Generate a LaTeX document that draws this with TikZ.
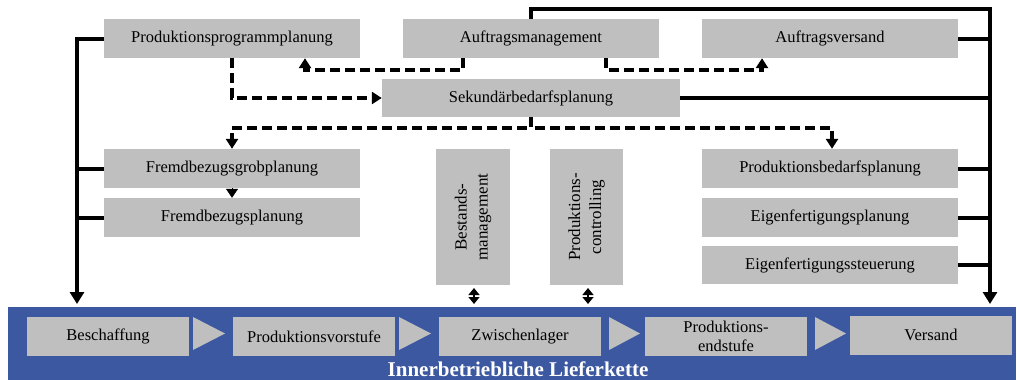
\documentclass[tikz,border=0pt]{standalone}
\usepackage{fontspec}
\setmainfont{Liberation Serif}
\usetikzlibrary{arrows.meta}
\definecolor{boxgray}{HTML}{BFBFBF}
\definecolor{bandblue}{HTML}{3C58A0}
\begin{document}
\begin{tikzpicture}[x=1pt,y=-1pt,
  box/.style={fill=boxgray, inner sep=0pt, font=\fontsize{16.5}{19}\selectfont, align=center},
  wbox/.style={box, minimum width=256pt, minimum height=39pt},
  lbox/.style={box, minimum width=162pt, minimum height=39pt},
  vbox/.style={box, rotate=90, minimum width=136pt, font=\fontsize{17}{21}\selectfont},
  conn/.style={line width=4pt},
  dconn/.style={line width=4pt, dash pattern=on 10pt off 5pt},
  tip/.style={-{Triangle[width=14pt,length=12pt]}},
  dtip/.style={-{Triangle[width=12pt,length=10pt]}},
  dbl/.style={line width=1.5pt, {Triangle[width=11pt,length=7pt]}-{Triangle[width=11pt,length=7pt]}},
  chev/.style={fill=boxgray}
]
\useasboundingbox (0,0) rectangle (1017,380);

% band
\fill[bandblue] (8,307) rectangle (1016,380);

% top row
\node[wbox] (ppp) at (232,38.5) {Produktionsprogrammplanung};
\node[wbox] (am) at (531,38.5) {Auftragsmanagement};
\node[wbox] (av) at (830,38.5) {Auftragsversand};
\node[box, minimum width=298pt, minimum height=38pt] (sek) at (531,98) {Sekundärbedarfsplanung};

% left
\node[wbox] (fgp) at (232,168.5) {Fremdbezugsgrobplanung};
\node[wbox] (fp) at (232,217.5) {Fremdbezugsplanung};

% middle vertical
\node[vbox, minimum height=74pt] (bm) at (473,217) {Bestands-\\management};
\node[vbox, minimum height=73pt] (pc) at (586.5,217) {Produktions-\\controlling};

% right
\node[wbox] (pbp) at (830,168.5) {Produktionsbedarfsplanung};
\node[wbox] (efp) at (830,217.5) {Eigenfertigungsplanung};
\node[wbox, minimum height=38pt] (efs) at (830,265) {Eigenfertigungssteuerung};

% bottom chain
\node[lbox] (bes) at (108,336.5) {Beschaffung};
\node[lbox] (pv) at (314,336.5) {Produktionsvorstufe};
\node[lbox] (zw) at (520,336.5) {Zwischenlager};
\node[lbox] (pe) at (726,336.5) {Produktions-\\endstufe};
\node[lbox] (vs) at (931,335) {Versand};

\fill[chev] (193,317) -- (225,333.5) -- (193,350) -- cycle;
\fill[chev] (399,317) -- (431,333.5) -- (399,350) -- cycle;
\fill[chev] (609,317) -- (640,333.5) -- (609,350) -- cycle;
\fill[chev] (815,317) -- (846,333.5) -- (815,350) -- cycle;

\node[font=\bfseries\fontsize{21}{21}\selectfont, text=white, anchor=base] (lbl) at (518,376) {Innerbetriebliche Lieferkette};

% trunks
\coordinate (lt) at (77,304);
\coordinate (rt) at (990,304);
\draw[conn, tip] (ppp.west) -| (lt);
\draw[conn] (fgp.west) -- (fgp.west -| lt);
\draw[conn] (fp.west) -- (fp.west -| lt);

\draw[conn, tip] (am.north) -- ++(0,-10) -| (rt);
\draw[conn] (av.east) -- (av.east -| rt);
\draw[conn] (sek.east) -- (sek.east -| rt);
\draw[conn] (pbp.east) -- (pbp.east -| rt);
\draw[conn] (efp.east) -- (efp.east -| rt);
\draw[conn] (efs.east) -- (efs.east -| rt);

% dashed flows
\draw[dconn, dtip] ([xshift=-68pt]am.south) -- ++(0,12) -| ([xshift=73pt]ppp.south);
\draw[dconn, dtip] ([xshift=75pt]am.south) -- ++(0,12) -| ([xshift=-68pt]av.south);
\draw[dconn, dtip] (ppp.south) |- (sek.west);
\draw[dconn, dtip] (sek.south) -- ++(0,11) -| (fgp.north);
\draw[dconn, dtip] (sek.south) -- ++(0,11) -| ([xshift=2pt]pbp.north);

% small arrow
\draw[line width=0.5pt, -{Triangle[width=12pt,length=9pt]}] (fgp.south) -- (fp.north);

% double arrows
\coordinate (bm1) at (474,288);
\coordinate (bm2) at (474,304);
\coordinate (pc1) at (588,288);
\coordinate (pc2) at (588,304);
\draw[dbl] (bm1) -- (bm2);
\draw[dbl] (pc1) -- (pc2);
\end{tikzpicture}
\end{document}
